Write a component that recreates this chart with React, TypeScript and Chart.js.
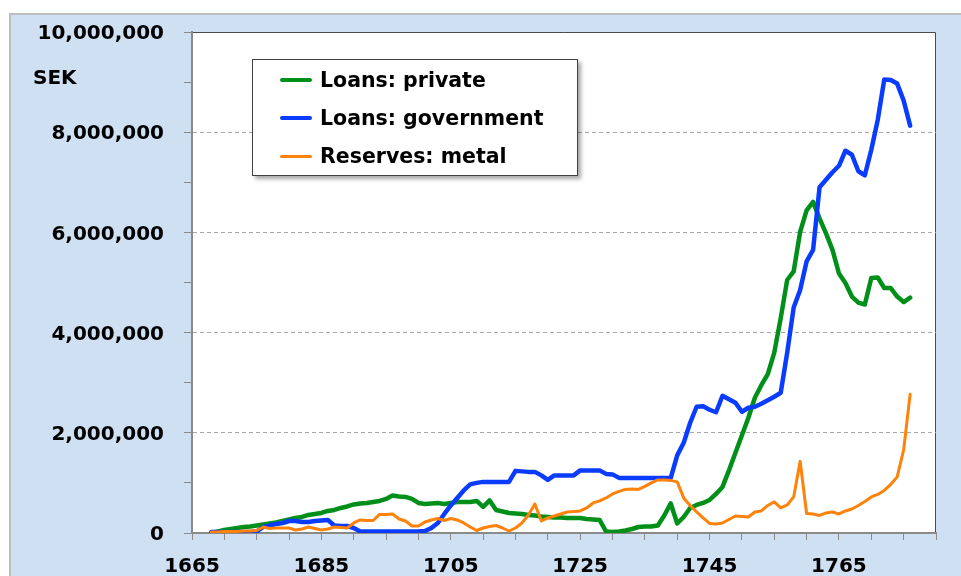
import React, { useEffect, useRef } from 'react';
import { Chart, registerables } from 'chart.js';

Chart.register(...registerables);

const years = [
  1668, 1669, 1670, 1671, 1672, 1673, 1674, 1675, 1676, 1677, 1678, 1679,
  1680, 1681, 1682, 1683, 1684, 1685, 1686, 1687, 1688, 1689, 1690, 1691,
  1692, 1693, 1694, 1695, 1696, 1697, 1698, 1699, 1700, 1701, 1702, 1703,
  1704, 1705, 1706, 1707, 1708, 1709, 1710, 1711, 1712, 1713, 1714, 1715,
  1716, 1717, 1718, 1719, 1720, 1721, 1722, 1723, 1724, 1725, 1726, 1727,
  1728, 1729, 1730, 1731, 1732, 1733, 1734, 1735, 1736, 1737, 1738, 1739,
  1740, 1741, 1742, 1743, 1744, 1745, 1746, 1747, 1748, 1749, 1750, 1751,
  1752, 1753, 1754, 1755, 1756, 1757, 1758, 1759, 1760, 1761, 1762, 1763,
  1764, 1765, 1766, 1767, 1768, 1769, 1770, 1771, 1772, 1773, 1774, 1775,
  1776,
];

const loansPrivate = [
  0, 30000, 60000, 80000, 100000, 120000, 130000, 150000, 170000, 190000, 210000, 240000,
  270000, 300000, 320000, 360000, 380000, 400000, 440000, 460000, 500000, 530000, 570000, 590000,
  600000, 620000, 640000, 680000, 750000, 730000, 720000, 680000, 600000, 580000, 590000, 600000,
  580000, 600000, 620000, 620000, 620000, 640000, 520000, 650000, 460000, 430000, 400000, 390000,
  380000, 360000, 350000, 330000, 320000, 310000, 310000, 300000, 300000, 300000, 280000, 270000,
  260000, 30000, 20000, 30000, 50000, 80000, 120000, 130000, 130000, 150000, 350000, 590000,
  190000, 320000, 500000, 560000, 600000, 660000, 780000, 920000, 1250000, 1600000, 1950000, 2300000,
  2700000, 2950000, 3170000, 3600000, 4290000, 5050000, 5220000, 6010000, 6440000, 6610000, 6280000, 5980000,
  5650000, 5180000, 4990000, 4720000, 4600000, 4560000, 5090000, 5100000, 4890000, 4890000, 4720000, 4610000,
  4700000,
];

const loansGovernment = [
  20000, 20000, 20000, 20000, 20000, 20000, 20000, 30000, 120000, 150000, 180000, 200000,
  240000, 240000, 220000, 220000, 240000, 250000, 260000, 150000, 140000, 140000, 100000, 30000,
  30000, 30000, 30000, 30000, 30000, 30000, 30000, 30000, 30000, 40000, 100000, 200000,
  380000, 550000, 700000, 850000, 970000, 1000000, 1020000, 1020000, 1020000, 1020000, 1020000, 1240000,
  1230000, 1220000, 1220000, 1150000, 1060000, 1150000, 1150000, 1150000, 1150000, 1250000, 1250000, 1250000,
  1250000, 1180000, 1170000, 1100000, 1100000, 1100000, 1100000, 1100000, 1100000, 1100000, 1100000, 1100000,
  1550000, 1800000, 2200000, 2520000, 2530000, 2460000, 2410000, 2740000, 2670000, 2600000, 2420000, 2500000,
  2520000, 2580000, 2650000, 2720000, 2800000, 3600000, 4500000, 4850000, 5420000, 5650000, 6900000, 7050000,
  7200000, 7330000, 7630000, 7550000, 7220000, 7140000, 7650000, 8250000, 9050000, 9040000, 8970000, 8630000,
  8130000,
];

const reservesMetal = [
  20000, 20000, 30000, 30000, 30000, 40000, 40000, 50000, 120000, 90000, 100000, 100000,
  100000, 60000, 80000, 120000, 90000, 60000, 80000, 120000, 110000, 100000, 200000, 260000,
  250000, 250000, 370000, 370000, 380000, 280000, 240000, 140000, 140000, 220000, 260000, 290000,
  250000, 290000, 260000, 200000, 120000, 50000, 100000, 130000, 150000, 100000, 40000, 100000,
  200000, 360000, 580000, 240000, 300000, 340000, 380000, 420000, 430000, 440000, 500000, 600000,
  640000, 700000, 780000, 830000, 870000, 880000, 870000, 930000, 1000000, 1060000, 1060000, 1050000,
  1020000, 700000, 550000, 420000, 300000, 190000, 180000, 200000, 270000, 340000, 330000, 320000,
  420000, 440000, 550000, 620000, 500000, 560000, 720000, 1430000, 390000, 380000, 350000, 400000,
  420000, 380000, 440000, 480000, 550000, 630000, 720000, 770000, 850000, 970000, 1120000, 1660000,
  2770000,
];

const seriesNames = ['Loans: private', 'Loans: government', 'Reserves: metal'];
const seriesColors = ['#00901a', '#0a3cff', '#ff820a'];
const xTickLabels = [1665, 1685, 1705, 1725, 1745, 1765];
const yTickLabels = [0, 2000000, 4000000, 6000000, 8000000, 10000000];
const yGridValues = [2000000, 4000000, 6000000, 8000000];
const yAxisTitle = 'SEK';

const FONT = '"DejaVu Sans", Verdana, sans-serif';

const plotBg = {
  id: 'plotBg',
  beforeDraw(chart: any) {
    const { ctx, chartArea: a } = chart;
    ctx.save();
    ctx.fillStyle = '#ffffff';
    ctx.fillRect(a.left, a.top, a.right - a.left, a.bottom - a.top);
    ctx.strokeStyle = '#4a4a4a';
    ctx.lineWidth = 1;
    ctx.beginPath();
    ctx.moveTo(a.left, a.top + 0.5);
    ctx.lineTo(a.right - 0.5, a.top + 0.5);
    ctx.lineTo(a.right - 0.5, a.bottom);
    ctx.stroke();
    ctx.restore();
  },
};

export default function App() {
  const ref = useRef<HTMLCanvasElement>(null);

  useEffect(() => {
    document.body.style.margin = '0';
    const canvas = ref.current;
    if (!canvas) return;
    const mk = (arr: number[]) => years.map((y, i) => ({ x: y, y: arr[i] }));
    const chart = new Chart(canvas, {
      type: 'line',
      data: {
        datasets: [
          { label: seriesNames[0], data: mk(loansPrivate), borderColor: seriesColors[0], borderWidth: 4.5, order: 2 },
          { label: seriesNames[1], data: mk(loansGovernment), borderColor: seriesColors[1], borderWidth: 4.5, order: 1 },
          { label: seriesNames[2], data: mk(reservesMetal), borderColor: seriesColors[2], borderWidth: 3, order: 0 },
        ],
      },
      options: {
        animation: false,
        responsive: false,
        devicePixelRatio: 1,
        layout: { padding: { left: 20, top: 29, right: 25, bottom: 0 } },
        plugins: { legend: { display: false }, tooltip: { enabled: false } },
        elements: {
          point: { radius: 0 },
          line: { tension: 0, borderCapStyle: 'round', borderJoinStyle: 'round', fill: false },
        },
        scales: {
          x: {
            type: 'linear',
            min: 1665,
            max: 1780,
            afterFit: (s: any) => { s.height = 43; },
            ticks: {
              stepSize: 5,
              autoSkip: false,
              maxRotation: 0,
              padding: 15,
              color: '#000',
              font: { family: FONT, size: 20, weight: 'bold' },
              callback: (v: any) => (xTickLabels.includes(Number(v)) ? String(v) : ''),
            },
            grid: { drawOnChartArea: false, tickLength: 7, tickColor: '#8a8a8a', color: '#8a8a8a' },
            border: { color: '#8a8a8a', width: 2 },
          },
          y: {
            min: 0,
            max: 10000000,
            afterFit: (s: any) => { s.width = 172; },
            ticks: {
              stepSize: 1000000,
              autoSkip: false,
              padding: 20,
              labelOffset: 2,
              color: '#000',
              font: { family: FONT, size: 20, weight: 'bold' },
              callback: (v: any) => (yTickLabels.includes(Number(v)) ? Number(v).toLocaleString('en-US') : ''),
            },
            grid: {
              color: (c: any) => (c.tick && yGridValues.includes(c.tick.value) ? '#a8a8a8' : 'rgba(0,0,0,0)'),
              tickColor: '#8a8a8a',
              tickLength: 8,
              lineWidth: 1,
            },
            border: { color: '#8a8a8a', width: 2, dash: [4, 3] },
          },
        },
      },
      plugins: [plotBg],
    } as any);
    return () => chart.destroy();
  }, []);

  const legendRows = [0, 1, 2];
  const rowY = [20, 58, 96];

  return (
    <div style={{ position: 'relative', width: 961, height: 576, overflow: 'hidden', background: '#fff' }}>
      <div
        style={{
          position: 'absolute', left: 9, top: 13, width: 960, height: 570,
          background: '#cfe0f2', borderTop: '2px solid #bdbdbd', borderLeft: '2px solid #bdbdbd',
        }}
      />
      <canvas ref={ref} width={961} height={576} style={{ position: 'absolute', left: 0, top: 0 }} />
      <div
        style={{
          position: 'absolute', left: 33, top: 65, lineHeight: '24px',
          fontFamily: FONT, fontWeight: 'bold', fontSize: 20, color: '#000',
        }}
      >
        {yAxisTitle}
      </div>
      <div
        style={{
          position: 'absolute', left: 252, top: 59, width: 324, height: 115,
          background: '#fff', border: '1px solid #404040',
          boxShadow: '3px 3px 4px rgba(0,0,0,0.35)',
        }}
      >
        {legendRows.map((i) => (
          <div key={i}>
            <div
              style={{
                position: 'absolute', left: 27, top: rowY[i] - (i === 2 ? 1.5 : 2.25), width: 32,
                height: i === 2 ? 3 : 4.5, borderRadius: 3, background: seriesColors[i],
              }}
            />
            <div
              style={{
                position: 'absolute', left: 67, top: rowY[i] - 13, lineHeight: '26px', whiteSpace: 'nowrap',
                fontFamily: FONT, fontWeight: 'bold', fontSize: 20.5, color: '#000',
              }}
            >
              {seriesNames[i]}
            </div>
          </div>
        ))}
      </div>
    </div>
  );
}
